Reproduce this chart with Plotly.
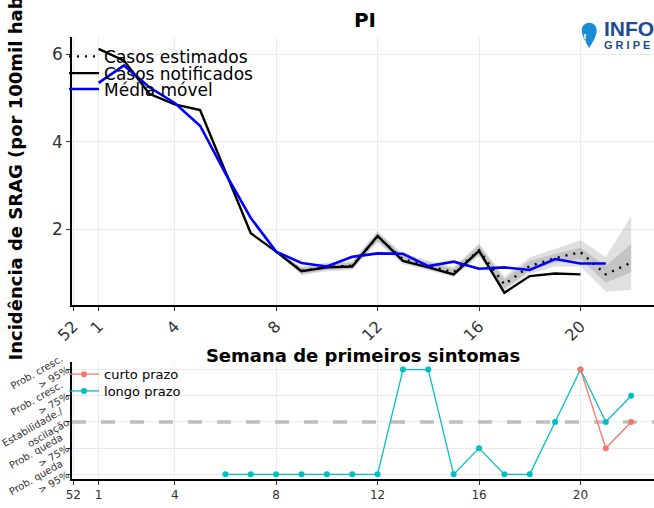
import plotly.graph_objects as go

# ---------------- data ----------------
week_ticks = [0, 1, 4, 8, 12, 16, 20]
week_labels = ['52', '1', '4', '8', '12', '16', '20']
x_range = [-0.05, 22.9]

notif_weeks = list(range(1, 21))
notified = [6.13, 5.86, 5.10, 4.86, 4.73, 3.32, 1.91, 1.49, 1.04, 1.13,
            1.15, 1.85, 1.28, 1.13, 0.97, 1.51, 0.55, 0.93, 0.99, 0.97]

ma_weeks = list(range(1, 22))
moving_avg = [5.35, 5.75, 5.25, 4.89, 4.37, 3.28, 2.26, 1.49, 1.23, 1.15,
              1.37, 1.45, 1.44, 1.16, 1.26, 1.10, 1.13, 1.07, 1.32, 1.22, 1.22]

est_weeks = list(range(8, 23))
estimated = [1.49, 1.05, 1.14, 1.17, 1.83, 1.32, 1.17, 1.02, 1.52, 0.74,
             1.16, 1.34, 1.48, 0.97, 1.24]
inner_lo = [1.49, 0.98, 1.07, 1.10, 1.74, 1.24, 1.09, 0.94, 1.42, 0.64,
            1.05, 1.24, 1.32, 0.78, 1.02]
inner_hi = [1.49, 1.12, 1.21, 1.24, 1.93, 1.40, 1.25, 1.10, 1.64, 0.86,
            1.28, 1.44, 1.58, 1.16, 1.66]
outer_lo = [1.49, 0.95, 1.04, 1.07, 1.70, 1.20, 1.06, 0.91, 1.38, 0.60,
            0.98, 1.15, 1.15, 0.57, 0.62]
outer_hi = [1.49, 1.15, 1.24, 1.27, 1.97, 1.44, 1.29, 1.14, 1.68, 0.92,
            1.36, 1.56, 1.75, 1.37, 2.30]

trend_levels = ['Prob. queda<br>> 95%', 'Prob. queda<br>> 75%',
                'Estabilidade./<br>oscilação', 'Prob. cresc.<br>> 75%',
                'Prob. cresc.<br>> 95%']
long_weeks = list(range(6, 23))
long_term = [0, 0, 0, 0, 0, 0, 0, 4, 4, 0, 1, 0, 0, 2, 4, 2, 3]
short_weeks = [20, 21, 22]
short_term = [4, 1, 2]
stable_level = 2

# ---------------- figure ----------------
W, H = 654, 508
ML, MR, MT, MB = 70, 0, 37, 24
PW, PH = W - ML - MR, H - MT - MB


def px2paper(px, py):
    return (px - ML) / PW, (H - MB - py) / PH


fig = go.Figure()

# ribbons
fig.add_trace(go.Scatter(
    x=est_weeks + est_weeks[::-1], y=outer_hi + outer_lo[::-1],
    fill='toself', fillcolor='rgba(0,0,0,0.12)', line=dict(width=0),
    mode='lines', showlegend=False, hoverinfo='skip', xaxis='x', yaxis='y'))
fig.add_trace(go.Scatter(
    x=est_weeks + est_weeks[::-1], y=inner_hi + inner_lo[::-1],
    fill='toself', fillcolor='rgba(0,0,0,0.13)', line=dict(width=0),
    mode='lines', showlegend=False, hoverinfo='skip', xaxis='x', yaxis='y'))

fig.add_trace(go.Scatter(
    x=notif_weeks, y=notified, mode='lines', name='Casos notificados',
    line=dict(color='black', width=2.4), legend='legend3',
    xaxis='x', yaxis='y'))
fig.add_trace(go.Scatter(
    x=est_weeks, y=estimated, mode='lines', name='Casos estimados',
    line=dict(color='black', width=2.4, dash='2px,6px'),
    legend='legend', xaxis='x', yaxis='y'))
fig.add_trace(go.Scatter(
    x=ma_weeks, y=moving_avg, mode='lines', name='Média móvel',
    line=dict(color='#0000FF', width=2.6), legend='legend4',
    xaxis='x', yaxis='y'))

# bottom panel: stability reference line, then the two trend series
fig.add_trace(go.Scatter(
    x=x_range, y=[stable_level, stable_level], mode='lines', showlegend=False,
    hoverinfo='skip', line=dict(color='#BEBEBE', width=3.5, dash='14px,15px'),
    xaxis='x2', yaxis='y2'))
fig.add_trace(go.Scatter(
    x=long_weeks, y=long_term, mode='lines+markers', name='longo prazo',
    line=dict(color='#00BFC4', width=1.3), marker=dict(size=6, color='#00BFC4'),
    legend='legend5', xaxis='x2', yaxis='y2'))
fig.add_trace(go.Scatter(
    x=short_weeks, y=short_term, mode='lines+markers', name='curto prazo',
    line=dict(color='#F8766D', width=1.3), marker=dict(size=6, color='#F8766D'),
    legend='legend2', xaxis='x2', yaxis='y2'))

top_dom0 = (H - MB - 308) / PH
bot_dom1 = (H - MB - 366) / PH

axis_common = dict(showline=True, linecolor='black', linewidth=1.5,
                   ticks='outside', ticklen=4, tickcolor='#333333',
                   showgrid=True, gridcolor='#EBEBEB', gridwidth=1,
                   zeroline=False)


def leg(px, py, size):
    lx, ly = px2paper(px, py)
    return dict(x=lx, y=ly, xanchor='left', yanchor='middle',
                bgcolor='rgba(0,0,0,0)', itemwidth=30,
                font=dict(size=size, color='black'))


fig.update_layout(
    width=W, height=H,
    margin=dict(l=ML, r=MR, t=MT, b=MB),
    plot_bgcolor='white', paper_bgcolor='white',
    font=dict(family='DejaVu Sans', color='black'),
    title=dict(text='<b>PI</b>', x=365 / W, xref='container', xanchor='center',
               y=1 - 20 / H, yref='container', yanchor='middle',
               font=dict(size=20, color='black')),
    xaxis=dict(domain=[0, 1], anchor='y', range=x_range,
               tickvals=week_ticks, ticktext=week_labels, tickangle=-45,
               tickfont=dict(size=16, color='#333333'),
               title=dict(text='Semana de primeiros sintomas', standoff=0,
                          font=dict(size=18, weight='bold', color='black')),
               **axis_common),
    yaxis=dict(domain=[top_dom0, 1], anchor='x', range=[0.27, 6.4],
               tickvals=[2, 4, 6], tickfont=dict(size=17, color='#333333'),
               title=dict(text='Incidência de SRAG (por 100mil hab.)', standoff=25,
                          font=dict(size=18, weight='bold', color='black')),
               **axis_common),
    xaxis2=dict(domain=[0, 1], anchor='y2', range=x_range,
                tickvals=week_ticks, ticktext=week_labels, tickangle=0,
                tickfont=dict(size=12, color='#333333'),
                **axis_common),
    yaxis2=dict(domain=[0, bot_dom1], anchor='x2', range=[-0.177, 4.275],
                tickvals=[0, 1, 2, 3, 4], ticktext=trend_levels, tickangle=-30,
                ticklabelshift=-6, ticklabeloverflow='allow',
                tickfont=dict(size=10, color='#333333'),
                **axis_common),
    legend=leg(62, 57, 17),
    legend3=leg(62, 74, 17),
    legend4=leg(62, 90, 17),
    legend2=leg(62, 378, 13),
    legend5=leg(62, 395, 13),
)

# ---------------- logo ----------------
pin_px = [('M', (589, 48)),
          ('C', (586, 43), (581.5, 37), (581.5, 30)),
          ('C', (581.5, 25.9), (584.9, 22.5), (589, 22.5)),
          ('C', (593.1, 22.5), (596.5, 25.9), (596.5, 30)),
          ('C', (596.5, 37), (592, 43), (589, 48))]
path = ''
for seg in pin_px:
    cmd, pts = seg[0], seg[1:]
    path += cmd + ' ' + ' '.join('%.5f,%.5f' % px2paper(*p) for p in pts) + ' '
path += 'Z'
fig.add_shape(type='path', path=path, xref='paper', yref='paper',
              fillcolor='#1C8CD2', line=dict(width=0))

ax, ay = px2paper(589, 30)
fig.add_annotation(text='<b>!</b>', x=ax, y=ay, xref='paper', yref='paper',
                   showarrow=False, font=dict(size=11, color='white',
                                              family='Liberation Sans'))
ix, iy = px2paper(602, 28)
fig.add_annotation(text='<b>INFO</b>', x=ix, y=iy, xref='paper', yref='paper',
                   xanchor='left', yanchor='middle', showarrow=False,
                   font=dict(size=21, color='#1E4B8F', family='Liberation Sans'))
gx, gy = px2paper(602, 45)
fig.add_annotation(text='<b>G R I P E</b>', x=gx, y=gy, xref='paper', yref='paper',
                   xanchor='left', yanchor='middle', showarrow=False,
                   font=dict(size=11, color='#1E4B8F', family='Liberation Sans'))

fig.write_html('out.html', config={'displayModeBar': False},
               post_script="document.body.style.margin='0';")
